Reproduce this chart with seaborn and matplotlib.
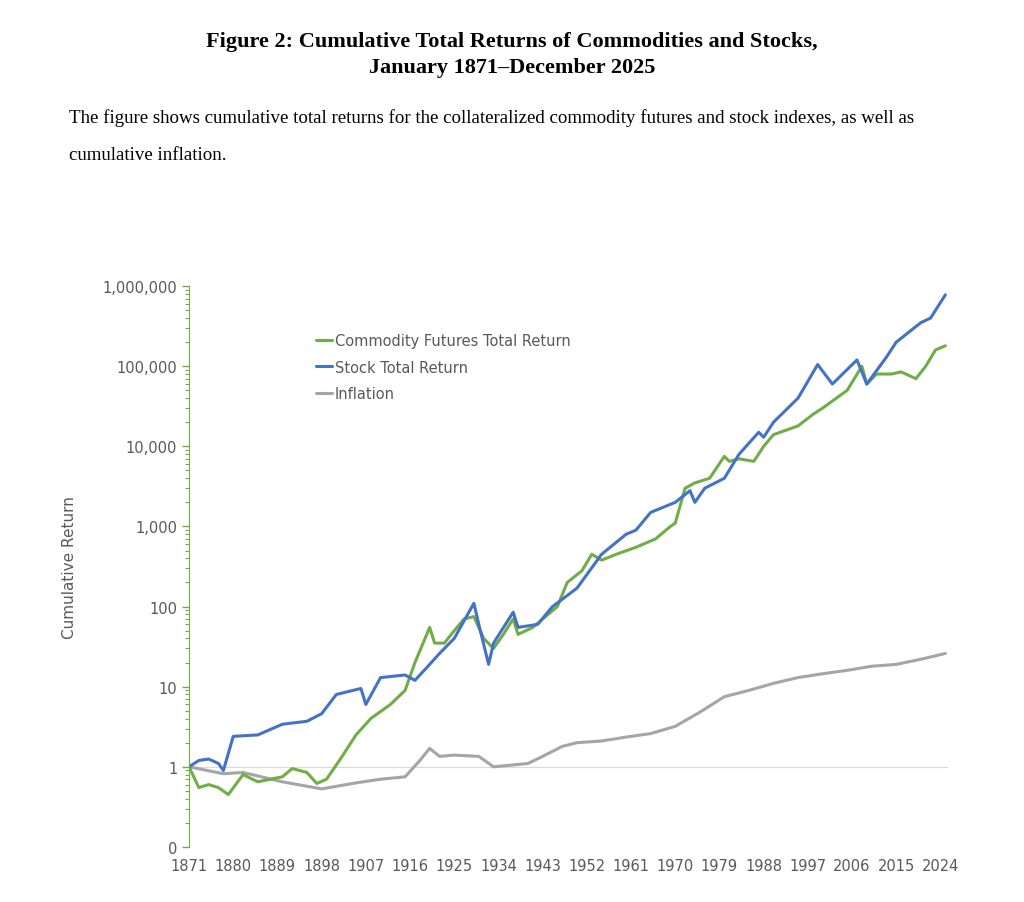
import numpy as np
import pandas as pd
import seaborn as sns
import matplotlib.pyplot as plt
from matplotlib.ticker import FixedLocator, LogLocator, FuncFormatter

# values (approximate)
stock_years = [1871, 1873, 1875, 1877, 1878, 1880, 1885, 1890, 1895, 1898, 1901, 1906, 1907,
               1910, 1915, 1917, 1920, 1922, 1925, 1929, 1930, 1932, 1933, 1937, 1938, 1942,
               1945, 1950, 1955, 1960, 1962, 1965, 1970, 1973, 1974, 1976, 1980, 1983, 1987,
               1988, 1990, 1995, 1999, 2002, 2007, 2009, 2013, 2015, 2020, 2022, 2025]
stock_vals = [1.0, 1.2, 1.25, 1.1, 0.9, 2.4, 2.5, 3.4, 3.7, 4.6, 8, 9.5, 6,
              13, 14, 12, 19, 26, 40, 110, 60, 19, 35, 85, 55, 60,
              100, 170, 450, 800, 900, 1500, 2000, 2800, 2000, 3000, 4000, 8000, 15000,
              13000, 20000, 40000, 105000, 60000, 120000, 60000, 130000, 200000, 350000, 400000, 780000]

comm_years = [1871, 1873, 1875, 1877, 1879, 1882, 1885, 1890, 1892, 1895, 1897, 1899, 1902,
              1905, 1908, 1912, 1915, 1917, 1920, 1921, 1923, 1925, 1927, 1929, 1931, 1933,
              1935, 1937, 1938, 1941, 1943, 1946, 1948, 1951, 1953, 1955, 1958, 1962, 1966,
              1969, 1970, 1972, 1974, 1977, 1980, 1981, 1983, 1986, 1988, 1990, 1995, 1998,
              2000, 2005, 2008, 2009, 2011, 2014, 2016, 2019, 2021, 2023, 2025]
comm_vals = [1.0, 0.55, 0.6, 0.55, 0.45, 0.8, 0.65, 0.75, 0.95, 0.85, 0.62, 0.7, 1.3,
             2.5, 4, 6, 9, 20, 55, 35, 35, 50, 70, 75, 40, 30,
             45, 70, 45, 55, 70, 100, 200, 280, 450, 380, 450, 550, 700,
             1000, 1100, 3000, 3500, 4000, 7500, 6500, 7000, 6500, 10000, 14000, 18000, 25000,
             30000, 50000, 100000, 60000, 80000, 80000, 85000, 70000, 100000, 160000, 180000]

infl_years = [1871, 1878, 1882, 1890, 1898, 1905, 1910, 1915, 1918, 1920, 1922, 1925, 1930,
              1933, 1940, 1943, 1947, 1950, 1955, 1960, 1965, 1970, 1975, 1980, 1985, 1990,
              1995, 2000, 2005, 2010, 2015, 2020, 2025]
infl_vals = [1.0, 0.82, 0.85, 0.65, 0.53, 0.63, 0.7, 0.75, 1.2, 1.7, 1.35, 1.4, 1.35,
             1.0, 1.1, 1.35, 1.8, 2.0, 2.1, 2.35, 2.6, 3.2, 4.8, 7.5, 9.0, 11,
             13, 14.5, 16, 18, 19, 22, 26]

year_ticks = list(range(1871, 2025, 9))
y_ticks = [0.1, 1, 10, 100, 1000, 10000, 100000, 1000000]
y_labels = ["0", "1", "10", "100", "1,000", "10,000", "100,000", "1,000,000"]

sns.set_style("white")

fig = plt.figure(figsize=(10.24, 9.03), dpi=100)
fig.text(0.5, 0.953, "Figure 2: Cumulative Total Returns of Commodities and Stocks,",
         ha="center", va="center", family="Liberation Serif", weight="bold", fontsize=16,
         color="black")
fig.text(0.5, 0.925, "January 1871\u2013December 2025",
         ha="center", va="center", family="Liberation Serif", weight="bold", fontsize=16,
         color="black")
fig.text(0.067, 0.869, "The figure shows cumulative total returns for the collateralized commodity "
         "futures and stock indexes, as well as",
         ha="left", va="center", family="Liberation Serif", fontsize=13.6, color="black")
fig.text(0.067, 0.828, "cumulative inflation.",
         ha="left", va="center", family="Liberation Serif", fontsize=13.6, color="black")

ax = fig.add_axes([0.1846, 0.061, 0.741, 0.621])
ax.set_yscale("log")

green = "#70ad47"
blue = "#4472c4"
gray = "#a5a5a5"
ax.axhline(1, color="#d9d9d9", lw=0.8, zorder=0)
sns.lineplot(x=infl_years, y=infl_vals, ax=ax, color=gray, lw=2.2, label="Inflation")
sns.lineplot(x=comm_years, y=comm_vals, ax=ax, color=green, lw=2.2,
             label="Commodity Futures Total Return")
sns.lineplot(x=stock_years, y=stock_vals, ax=ax, color=blue, lw=2.2, label="Stock Total Return")

ax.set_xlim(1871, 2025.5)
ax.set_ylim(0.1, 1000000)
ax.set_xticks(year_ticks)
ax.set_yticks(y_ticks)
ax.set_yticklabels(y_labels)
ax.yaxis.set_minor_locator(LogLocator(base=10, subs=np.arange(2, 10)))
ax.yaxis.set_minor_formatter(FuncFormatter(lambda v, p: ""))
ax.tick_params(axis="y", which="major", length=5, color=green, width=1, left=True,
               labelsize=10.5, labelcolor="#595959")
ax.tick_params(axis="y", which="minor", length=3, color=green, width=0.8, left=True)
ax.tick_params(axis="x", length=0, labelsize=10.5, labelcolor="#595959", pad=8)
for side in ["top", "right", "bottom"]:
    ax.spines[side].set_visible(False)
ax.spines["left"].set_color(green)
ax.set_ylabel("Cumulative Return", color="#595959", fontsize=11, labelpad=18)
ax.set_xlabel("")

handles, labels = ax.get_legend_handles_labels()
order = [1, 2, 0]
ax.legend([handles[i] for i in order], [labels[i] for i in order], loc="upper left",
          bbox_to_anchor=(0.15, 0.94), frameon=False, fontsize=10.5, handlelength=1.1,
          handletextpad=0.2, labelspacing=0.8, labelcolor="#595959")

fig.savefig("out.png", dpi=100)
